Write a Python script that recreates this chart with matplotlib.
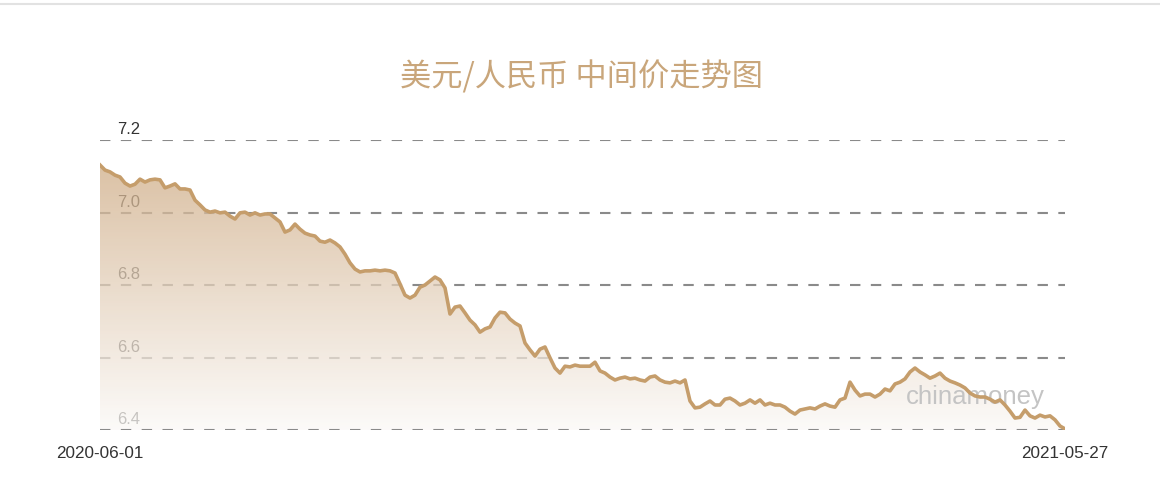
import matplotlib.pyplot as plt
import matplotlib.lines as mlines
import numpy as np

plt.rcParams['font.family'] = ['Noto Sans CJK SC', 'DejaVu Sans']

rates = [
    7.131, 7.117, 7.112, 7.103, 7.098, 7.081, 7.073, 7.078, 7.092, 7.084,
    7.090, 7.092, 7.090, 7.068, 7.073, 7.079, 7.065, 7.065, 7.062, 7.034,
    7.021, 7.007, 7.001, 7.004, 6.999, 7.001, 6.990, 6.982, 6.999, 7.001,
    6.993, 6.999, 6.993, 6.996, 6.996, 6.985, 6.974, 6.946, 6.952, 6.968,
    6.954, 6.943, 6.938, 6.935, 6.921, 6.918, 6.924, 6.916, 6.905, 6.885,
    6.861, 6.844, 6.836, 6.839, 6.839, 6.841, 6.839, 6.841, 6.839, 6.833,
    6.803, 6.772, 6.764, 6.772, 6.794, 6.800, 6.811, 6.822, 6.814, 6.792,
    6.720, 6.739, 6.742, 6.723, 6.703, 6.690, 6.670, 6.679, 6.684, 6.709,
    6.725, 6.723, 6.706, 6.695, 6.687, 6.640, 6.621, 6.604, 6.623, 6.629,
    6.599, 6.571, 6.557, 6.576, 6.574, 6.579, 6.576, 6.576, 6.576, 6.587,
    6.563, 6.557, 6.546, 6.538, 6.543, 6.546, 6.541, 6.543, 6.538, 6.535,
    6.546, 6.549, 6.538, 6.532, 6.530, 6.535, 6.530, 6.538, 6.480, 6.461,
    6.463, 6.472, 6.480, 6.469, 6.469, 6.485, 6.488, 6.480, 6.469, 6.474,
    6.483, 6.474, 6.483, 6.469, 6.474, 6.469, 6.469, 6.463, 6.452, 6.444,
    6.455, 6.458, 6.461, 6.458, 6.466, 6.472, 6.466, 6.463, 6.483, 6.488,
    6.532, 6.510, 6.494, 6.499, 6.499, 6.491, 6.499, 6.513, 6.508, 6.527,
    6.532, 6.541, 6.560, 6.571, 6.560, 6.552, 6.543, 6.549, 6.557, 6.543,
    6.535, 6.530, 6.524, 6.516, 6.502, 6.494, 6.491, 6.491, 6.485, 6.477,
    6.483, 6.469, 6.452, 6.433, 6.435, 6.455, 6.439, 6.433, 6.441, 6.436,
    6.439, 6.428, 6.411, 6.403,
]
start_label = '2020-06-01'
end_label = '2021-05-27'
y_ticks = [6.4, 6.6, 6.8, 7.0, 7.2]
title = '美元/人民币 中间价走势图'

line_color = '#c59d6b'
title_color = '#c9a67b'

fig = plt.figure(figsize=(11.6, 4.98), dpi=100)
ax = fig.add_axes([100 / 1160, 68 / 498, 965 / 1160, 290 / 498])
ax.set_xlim(0, len(rates) - 1)
ax.set_ylim(6.4, 7.2)
ax.axis('off')

x = np.arange(len(rates))

# dashed grid lines and y labels (sit under the area fill, except the bottom line)
for t in y_ticks:
    ax.axhline(t, color='#8a8a8a', lw=1.5, dashes=(5, 5),
               zorder=2.2 if t == y_ticks[0] else 1)
    ax.annotate(f'{t:.1f}', xy=(0, t), xytext=(17, 3), textcoords='offset pixels',
                ha='left', va='bottom', fontsize=12, color='#333333',
                family=['Liberation Sans', 'DejaVu Sans'], zorder=1)

# gradient area under the line
top_rgb = np.array([208, 174, 136]) / 255
bot_rgb = np.array([251, 249, 247]) / 255
n = 256
frac = np.linspace(0, 1, n)[:, None]
grad = np.zeros((n, 1, 4))
grad[:, 0, :3] = top_rgb * (1 - frac) + bot_rgb * frac
grad[:, 0, 3] = 0.75
poly = ax.fill_between(x, rates, 6.4, color='none', lw=0, zorder=2)
img = ax.imshow(grad, extent=[0, len(rates) - 1, 6.4, max(rates)], origin='upper',
                aspect='auto', zorder=2, interpolation='bilinear')
img.set_clip_path(poly.get_paths()[0], transform=ax.transData)

# watermark
ax.text(975 / 1160, 1 - 397 / 498, 'chinamoney', transform=fig.transFigure,
        ha='center', va='center', fontsize=18.5, color='#c4c4c4',
        family=['Liberation Sans', 'DejaVu Sans'], zorder=2.5)

ax.plot(x, rates, color=line_color, lw=2.6, solid_joinstyle='round', zorder=3)
ax.set_ylim(6.4, 7.2)
ax.set_xlim(0, len(rates) - 1)

# x labels at both ends
for xi, lab in [(0, start_label), (len(rates) - 1, end_label)]:
    ax.annotate(lab, xy=(xi, 6.4), xytext=(0, -23), textcoords='offset pixels',
                ha='center', va='center', fontsize=12.3, color='#333333',
                family=['Liberation Sans', 'DejaVu Sans'], annotation_clip=False)

fig.text(581 / 1160, 1 - 77 / 498, title, ha='center', va='center',
         fontsize=22.5, color=title_color)

fig.add_artist(mlines.Line2D([0, 1], [1 - 4 / 498, 1 - 4 / 498],
                             color='#e2e2e2', lw=1.5))

fig.savefig('out.png', dpi=100)
